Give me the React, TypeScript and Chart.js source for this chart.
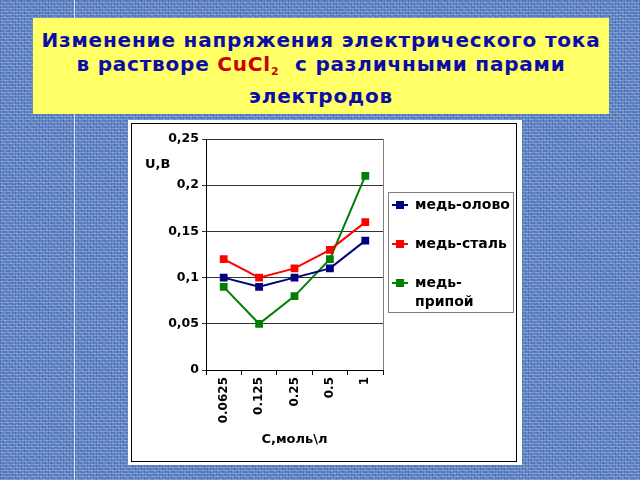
import React, { useEffect, useRef } from "react";
import { Chart, registerables } from "chart.js";

Chart.register(...registerables);

const categories = ["0.0625", "0.125", "0.25", "0.5", "1"];
const seriesNames = ["медь-олово", "медь-сталь", "медь-припой"];
const copperTin = [0.1, 0.09, 0.1, 0.11, 0.14];
const copperSteel = [0.12, 0.1, 0.11, 0.13, 0.16];
const copperSolder = [0.09, 0.05, 0.08, 0.12, 0.21];
const seriesColors = ["#000080", "#ff0000", "#008000"];
const legendLines = [["медь-олово"], ["медь-сталь"], ["медь-", "припой"]];
const yTitle = "U,B";
const xTitle = "C,моль\\л";

const FONT = "'DejaVu Sans', sans-serif";

const decorPlugin = {
  id: "decor",
  afterDraw(chart: any) {
    const ctx = chart.ctx;
    const a = chart.chartArea;
    ctx.save();
    // right border of plot area
    ctx.strokeStyle = "#808080";
    ctx.lineWidth = 1;
    ctx.beginPath();
    ctx.moveTo(Math.round(a.right) + 0.5, a.top);
    ctx.lineTo(Math.round(a.right) + 0.5, a.bottom);
    ctx.stroke();

    // axis titles
    ctx.fillStyle = "#000";
    ctx.font = `bold 13px ${FONT}`;
    ctx.textBaseline = "middle";
    ctx.textAlign = "left";
    ctx.fillText(yTitle, a.left - 61, a.top + 26);
    ctx.textAlign = "center";
    ctx.fillText(xTitle, (a.left + a.right) / 2, a.bottom + 70);

    // legend
    const lx = a.right + 5;
    const ly = 68;
    const lw = 125;
    const lh = 120;
    ctx.strokeStyle = "#808080";
    ctx.lineWidth = 1;
    ctx.strokeRect(lx + 0.5, ly + 0.5, lw, lh);
    ctx.font = `bold 14px ${FONT}`;
    ctx.textAlign = "left";
    const rowY = [13, 52, 91];
    chart.data.datasets.forEach((ds: any, i: number) => {
      const y = ly + rowY[i];
      ctx.strokeStyle = ds.borderColor;
      ctx.lineWidth = 2;
      ctx.beginPath();
      ctx.moveTo(lx + 4, y);
      ctx.lineTo(lx + 20, y);
      ctx.stroke();
      ctx.fillStyle = ds.backgroundColor;
      ctx.fillRect(lx + 8, y - 4, 8, 8);
      ctx.fillStyle = "#000";
      legendLines[i].forEach((t, j) => {
        ctx.fillText(t, lx + 27, y + j * 19);
      });
    });
    ctx.restore();
  },
};

function App() {
  const ref = useRef<HTMLCanvasElement | null>(null);

  useEffect(() => {
    if (!ref.current) return;
    const data = [copperTin, copperSteel, copperSolder];
    const chart = new Chart(ref.current, {
      type: "line",
      data: {
        labels: categories,
        datasets: seriesNames.map((name, i) => ({
          label: name,
          data: data[i],
          borderColor: seriesColors[i],
          backgroundColor: seriesColors[i],
          borderWidth: 2,
          pointStyle: "rect",
          pointRadius: 5.5,
          pointBorderWidth: 0,
          pointBackgroundColor: seriesColors[i],
          tension: 0,
        })),
      },
      options: {
        animation: false,
        responsive: false,
        layout: { padding: { top: 15, right: 134, left: 0, bottom: 0 } },
        plugins: {
          legend: { display: false },
          tooltip: { enabled: false },
          title: { display: false },
        },
        scales: {
          x: {
            offset: true,
            afterFit: (s: any) => {
              s.height = 91;
            },
            grid: {
              offset: true,
              drawOnChartArea: false,
              drawTicks: true,
              tickLength: 5,
              color: "#000",
            },
            border: { color: "#000", width: 1 },
            ticks: {
              color: "#000",
              font: { family: FONT, size: 12, weight: "bold" },
              minRotation: 90,
              maxRotation: 90,
              autoSkip: false,
              padding: 2,
            },
          },
          y: {
            min: 0,
            max: 0.25,
            afterFit: (s: any) => {
              s.width = 73;
            },
            grid: {
              color: "#333",
              tickLength: 4,
              drawTicks: true,
            },
            border: { color: "#000", width: 1 },
            ticks: {
              stepSize: 0.05,
              color: "#000",
              padding: 3,
              font: { family: FONT, size: 12.5, weight: "bold" },
              callback: (v: any) =>
                parseFloat(Number(v).toFixed(2)).toString().replace(".", ","),
            },
          },
        },
      },
      plugins: [decorPlugin],
    } as any);
    return () => chart.destroy();
  }, []);

  const bg: React.CSSProperties = {
    position: "fixed",
    left: 0,
    top: 0,
    width: 640,
    height: 480,
    overflow: "hidden",
    backgroundColor: "#5e84c6",
    backgroundImage:
      "repeating-linear-gradient(0deg, rgba(220,235,255,0.25) 0 1px, rgba(0,0,0,0) 1px 3px), repeating-linear-gradient(90deg, rgba(20,40,110,0.22) 0 1px, rgba(0,0,0,0) 1px 3px), repeating-linear-gradient(45deg, rgba(255,255,255,0.10) 0 2px, rgba(0,0,0,0) 2px 5px), repeating-linear-gradient(-30deg, rgba(30,50,120,0.12) 0 1px, rgba(0,0,0,0) 1px 4px)",
    fontFamily: FONT,
  };

  const lineStyle: React.CSSProperties = {
    position: "absolute",
    left: 0,
    width: "100%",
    textAlign: "center",
    fontWeight: "bold",
    fontSize: 20,
    letterSpacing: "0.8px",
    color: "#0c0ca8",
    whiteSpace: "nowrap",
    lineHeight: "24px",
  };

  return (
    <div style={bg}>
      <div
        style={{
          position: "absolute",
          left: 74,
          top: 0,
          width: 1,
          height: 480,
          background: "rgba(235,240,255,0.85)",
        }}
      />
      <div
        style={{
          position: "absolute",
          left: 33,
          top: 18,
          width: 576,
          height: 96,
          background: "#ffff66",
        }}
      >
        <div style={{ ...lineStyle, top: 10 }}>
          Изменение напряжения электрического тока
        </div>
        <div style={{ ...lineStyle, top: 34 }}>
          в растворе{" "}
          <span style={{ color: "#cc0000" }}>
            CuCl
            <sub style={{ fontSize: 11, verticalAlign: "-4px", lineHeight: 0 }}>2</sub>
          </span>
          {"\u00a0\u00a0"}с различными парами
        </div>
        <div style={{ ...lineStyle, top: 66 }}>электродов</div>
      </div>
      <div
        style={{
          position: "absolute",
          left: 128,
          top: 120,
          width: 394,
          height: 345,
          background: "#fff",
        }}
      >
        <div
          style={{
            position: "absolute",
            left: 3,
            top: 3,
            width: 386,
            height: 339,
            border: "1px solid #000",
            boxSizing: "border-box",
            background: "#fff",
          }}
        />
        <canvas
          ref={ref}
          width={384}
          height={337}
          style={{ position: "absolute", left: 5, top: 4, width: 384, height: 337 }}
        />
      </div>
    </div>
  );
}

export default App;
